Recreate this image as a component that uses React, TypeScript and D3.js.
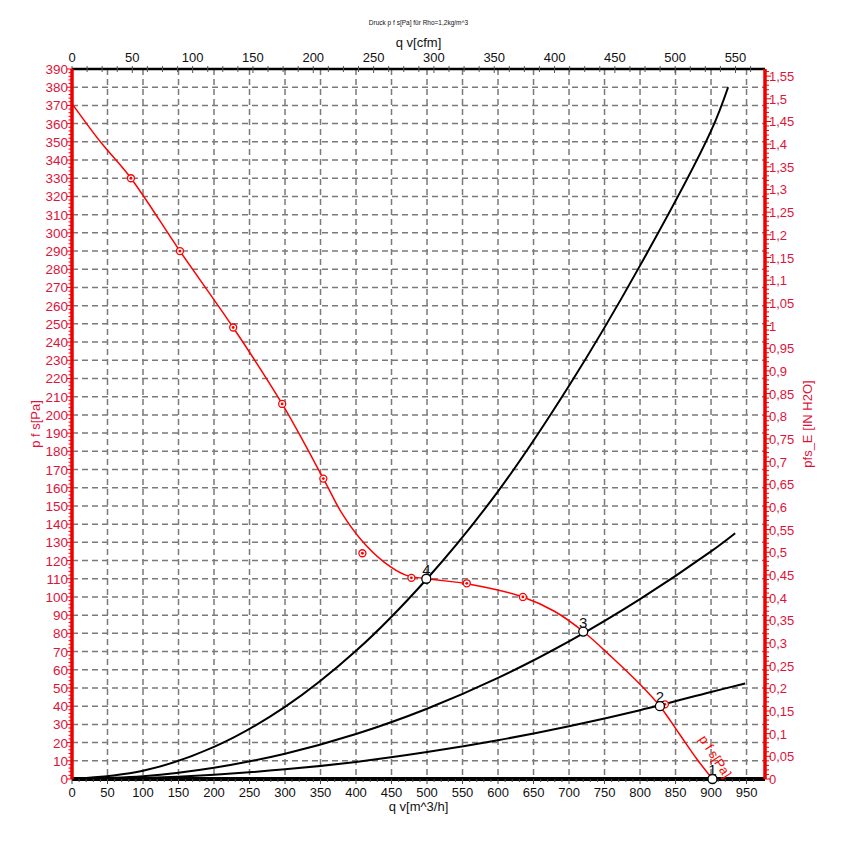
import React from 'react';
import * as d3 from 'd3';

const W = 846;
const H = 849;

// Fan curve (q v [m^3/h], p f s [Pa])
const fanQ = [0, 40, 83, 152, 227, 296, 354, 380, 408, 440, 470, 500, 560, 635, 680, 720, 760, 800, 828, 855, 880, 902];
const fanP = [371, 350, 330, 290, 248, 206, 165, 146, 131, 119, 112, 110, 107, 100, 92, 81, 67, 52, 40, 25, 11, 0];

// Measured markers on the fan curve
const markQ = [83, 152, 227, 296, 354, 409, 478, 556, 635, 835];
const markP = [330, 290, 248, 206, 165, 124, 110.5, 107.5, 100, 41];

// System curves
const sysQ = [0, 100, 200, 300, 400, 500, 600, 700, 800, 900];
const sysA = [0, 4.5, 17.6, 39.6, 70.4, 110, 158, 216, 282, 356];
const sysAEnd = [924, 380];
const sysB = [0, 1.5, 6.2, 13.9, 24.7, 38.6, 55.5, 75.6, 98.8, 125];
const sysBEnd = [934, 135];
const sysC = [0, 0.6, 2.4, 5.3, 9.4, 14.8, 21.3, 29, 37.8, 47.8];
const sysCEnd = [948, 52.5];

// Operating points
const opLabels = ['1', '2', '3', '4'];
const opQ = [902, 828, 720, 499];
const opP = [0, 40, 81, 110];

// Ticks
const bottomTicks = d3.range(0, 951, 50);
const topTicks = d3.range(0, 551, 50);
const leftTicks = d3.range(0, 391, 10);
const rightTicks = d3.range(0, 32).map((i) => i * 0.05);

const PA_PER_INH2O = 249.089;
const M3H_PER_CFM = 1.69901;

const RED_TXT = '#dc143c';
const RED = '#ee0000';
const FONT = 'Liberation Sans, Arial, sans-serif';

export default function App() {
  const x0 = 72, x1 = 765, yTop = 69, yBot = 779;
  const qMax = 976;
  const x = d3.scaleLinear().domain([0, qMax]).range([x0, x1]);
  const xc = d3.scaleLinear().domain([0, qMax / M3H_PER_CFM]).range([x0, x1]);
  const y = d3.scaleLinear().domain([0, 390]).range([yBot, yTop]);
  const yr = d3.scaleLinear().domain([0, 390 / PA_PER_INH2O]).range([yBot, yTop]);

  const line = d3
    .line<[number, number]>()
    .x((d) => x(d[0]))
    .y((d) => y(d[1]))
    .curve(d3.curveCatmullRom.alpha(0.5));

  const fanPts: [number, number][] = fanQ.map((q, i) => [q, fanP[i]]);
  const sysCurves = [
    [...sysQ.map((q, i) => [q, sysA[i]] as [number, number]).filter((d) => d[0] < sysAEnd[0]), sysAEnd as [number, number]],
    [...sysQ.map((q, i) => [q, sysB[i]] as [number, number]), sysBEnd as [number, number]],
    [...sysQ.map((q, i) => [q, sysC[i]] as [number, number]), sysCEnd as [number, number]],
  ];

  const fmtR = (v: number) => {
    const s = (Math.round(v * 100) / 100).toString();
    return s.replace('.', ',');
  };

  const leftMinor = d3.range(0, 391, 2);
  const rightMinor = d3.range(0, 157).map((i) => i * 0.01).filter((v) => yr(v) >= yTop - 0.5);
  const bottomMinor = d3.range(0, 961, 10);
  const topMinor = d3.range(0, 576, 12.5).filter((v) => xc(v) <= x1);

  return (
    <svg width={W} height={H} style={{ position: 'absolute', left: 0, top: 0, background: '#fff' }} fontFamily={FONT}>
      <rect x={0} y={0} width={W} height={H} fill="#fff" />
      {/* grid */}
      <g stroke="#7a7a7a" strokeWidth={1.5} strokeDasharray="6,4">
        {leftTicks.filter((v) => v > 0 && v < 390).map((v) => (
          <line key={'h' + v} x1={x0} x2={x1} y1={y(v)} y2={y(v)} />
        ))}
        {bottomTicks.filter((v) => v > 0).map((v) => (
          <line key={'v' + v} x1={x(v)} x2={x(v)} y1={yTop} y2={yBot} />
        ))}
      </g>

      {/* system curves */}
      <g fill="none" stroke="#000" strokeWidth={2}>
        {sysCurves.map((c, i) => (
          <path key={i} d={line(c) || ''} />
        ))}
      </g>

      {/* bottom axis */}
      <line x1={x0} x2={x1} y1={yBot} y2={yBot} stroke="#000" strokeWidth={4} />
      <g stroke="#444" strokeWidth={1}>
        {bottomMinor.map((v) => (
          <line key={'bm' + v} x1={x(v)} x2={x(v)} y1={yBot} y2={yBot + (v % 50 === 0 ? 5 : 3)} />
        ))}
      </g>
      <g fontSize={13} fill="#111" textAnchor="middle">
        {bottomTicks.map((v) => (
          <text key={'bt' + v} x={x(v)} y={797}>{v}</text>
        ))}
      </g>
      <text x={(x0 + x1) / 2} y={811} fontSize={13} textAnchor="middle" fill="#111">q v[m^3/h]</text>

      {/* top axis */}
      <line x1={x0} x2={x1} y1={yTop} y2={yTop} stroke="#000" strokeWidth={2.5} />
      <g stroke="#555" strokeWidth={1}>
        {topMinor.map((v) => (
          <line key={'tm' + v} x1={xc(v)} x2={xc(v)} y1={yTop - 3} y2={yTop + (v % 50 === 0 ? 4 : 3)} />
        ))}
      </g>
      <g fontSize={13} fill="#111" textAnchor="middle">
        {topTicks.map((v) => (
          <text key={'tt' + v} x={xc(v)} y={62}>{v}</text>
        ))}
      </g>
      <text x={(x0 + x1) / 2} y={47} fontSize={13} textAnchor="middle" fill="#111">q v[cfm]</text>
      <text x={(x0 + x1) / 2} y={25} fontSize={6.5} textAnchor="middle" fill="#111">Druck p f s[Pa] für Rho=1,2kg/m^3</text>

      {/* fan curve */}
      <path d={line(fanPts) || ''} fill="none" stroke="#ff0000" strokeWidth={1.5} />
      <g>
        {markQ.map((q, i) => (
          <g key={'mk' + i}>
            <circle cx={x(q)} cy={y(markP[i])} r={3.5} fill="#fff" stroke="#ff0000" strokeWidth={1.3} />
            <circle cx={x(q)} cy={y(markP[i])} r={1.4} fill="#ff0000" />
          </g>
        ))}
      </g>
      <text
        transform={`translate(${x(895) - 9},${y(22)}) rotate(57)`}
        fontSize={13}
        fill="#ff0000"
      >
        p f s[Pa]
      </text>

      {/* operating points */}
      {opQ.map((q, i) => (
        <g key={'op' + i}>
          <circle cx={x(q)} cy={y(opP[i])} r={4.5} fill="#fff" stroke="#000" strokeWidth={1.3} />
          <text x={x(q)} y={y(opP[i]) - 4} fontSize={15} textAnchor="middle" fill="#111">{opLabels[i]}</text>
        </g>
      ))}

      {/* left axis */}
      <g stroke={RED} strokeWidth={1}>
        {leftMinor.map((v) => (
          <line key={'lm' + v} x1={x0 - (v % 10 === 0 ? 5 : 3.5)} x2={x0} y1={y(v)} y2={y(v)} />
        ))}
      </g>
      <line x1={x0} x2={x0} y1={yTop} y2={yBot} stroke={RED} strokeWidth={3.5} />
      <g fontSize={13.5} fill={RED_TXT} textAnchor="end">
        {leftTicks.map((v) => (
          <text key={'lt' + v} x={x0 - 4} y={y(v) + 5}>{v}</text>
        ))}
      </g>
      <text transform={`translate(40,${(yTop + yBot) / 2}) rotate(-90)`} fontSize={13} textAnchor="middle" fill={RED_TXT}>p f s[Pa]</text>

      {/* right axis */}
      <g stroke={RED} strokeWidth={1}>
        {rightMinor.map((v, i) => (
          <line key={'rm' + i} x1={x1} x2={x1 + (i % 5 === 0 ? 6 : 4)} y1={yr(v)} y2={yr(v)} />
        ))}
      </g>
      <line x1={x1} x2={x1} y1={yTop} y2={yBot} stroke={RED} strokeWidth={3.5} />
      <g fontSize={13} fill={RED_TXT} textAnchor="start">
        {rightTicks.map((v, i) => (
          <text key={'rt' + i} x={x1 + 4} y={yr(v) + 5}>{fmtR(v)}</text>
        ))}
      </g>
      <text transform={`translate(812,${(yTop + yBot) / 2}) rotate(-90)`} fontSize={13} textAnchor="middle" fill={RED_TXT}>pfs_E [IN H2O]</text>
    </svg>
  );
}
